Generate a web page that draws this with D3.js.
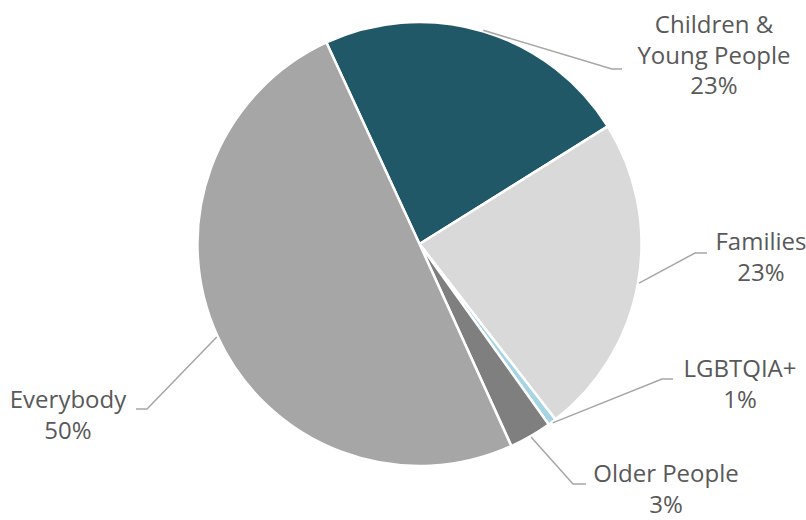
<!DOCTYPE html>
<html><head><meta charset="utf-8">
<script src="https://cdn.jsdelivr.net/npm/d3@7"></script>
<style>html,body{margin:0;padding:0;background:#fff;}svg{display:block;}</style>
</head><body>
<svg id="chart" width="806" height="520"></svg>
<script>
const categories = ["Children & Young People", "Families", "LGBTQIA+", "Older People", "Everybody"];
const values = [23.0, 23.4, 0.6, 3.1, 49.9];
const percentLabels = ["23%", "23%", "1%", "3%", "50%"];
const labelLines = [["Children &", "Young People"], ["Families"], ["LGBTQIA+"], ["Older People"], ["Everybody"]];
const colors = ["#215868", "#D9D9D9", "#A5D5E3", "#7F7F7F", "#A6A6A6"];

const svg = d3.select("#chart");
const cx = 419.5, cy = 244, R = 222;
const start = -24.8 * Math.PI / 180;

const pie = d3.pie().sort(null).value(d => d).startAngle(start).endAngle(start + 2 * Math.PI);
const arcs = pie(values);
const arc = d3.arc().innerRadius(0).outerRadius(R);

const g = svg.append("g").attr("transform", `translate(${cx},${cy})`);
g.selectAll("path").data(arcs).join("path")
  .attr("d", arc)
  .attr("fill", (d, i) => colors[i])
  .attr("stroke", "#fff")
  .attr("stroke-width", 2.5)
  .attr("stroke-linejoin", "round");

// label layout: text center x, first baseline y, elbow point, elbow end
const layout = [
  {x: 714, y: 33, elbow: [612, 69], end: [622, 69]},
  {x: 761, y: 250, elbow: [695, 253], end: [707, 253]},
  {x: 740, y: 377, elbow: [662, 379], end: [673, 379]},
  {x: 666, y: 482, elbow: [573, 484], end: [586, 484]},
  {x: 68, y: 408, elbow: [147, 409], end: [136, 409]}
];
const lineH = 30.5;

arcs.forEach((a, i) => {
  const mid = (a.startAngle + a.endAngle) / 2;
  const r0 = R + 1;
  const p0 = [cx + r0 * Math.sin(mid), cy - r0 * Math.cos(mid)];
  const L = layout[i];
  svg.append("polyline")
    .attr("points", [p0, L.elbow, L.end].map(p => p.join(",")).join(" "))
    .attr("fill", "none")
    .attr("stroke", "#A6A6A6")
    .attr("stroke-width", 1.5);
  const t = svg.append("text")
    .attr("x", L.x).attr("y", L.y)
    .attr("text-anchor", "middle")
    .attr("fill", "#595959")
    .attr("font-family", "'Open Sans', sans-serif")
    .attr("font-size", 24);
  const lines = labelLines[i].concat([percentLabels[i]]);
  lines.forEach((s, k) => {
    t.append("tspan").attr("x", L.x).attr("y", L.y + k * lineH).text(s);
  });
});
</script>
</body></html>
